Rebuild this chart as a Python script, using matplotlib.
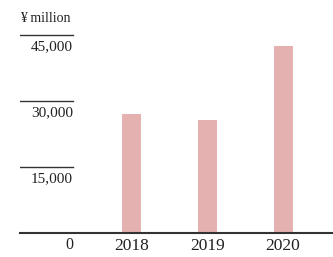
import matplotlib.pyplot as plt

years = ['2018', '2019', '2020']
values = [27000, 25700, 42600]
ticks = [15000, 30000, 45000]
tick_labels = ['15,000', '30,000', '45,000']

plt.rcParams['font.family'] = ['Liberation Serif', 'DejaVu Serif']

W, H = 333, 257
fig = plt.figure(figsize=(W / 100, H / 100), dpi=100)
# axes from x=20px to right edge, baseline at y=233px, top at y=20px
ax = fig.add_axes([20 / W, (H - 233) / H, 313 / W, 213 / H])
px_per = 66 / 15000
ax.set_ylim(0, 213 / px_per)
step = 75.7
ax.set_xlim(-(131.7 - 20) / step, 2 + (333 - 283) / step)
ax.axis('off')

ax.bar(range(len(years)), values, width=19 / step, color='#e4b0b0')

# short grid lines with labels underneath
frac = 53 / 313
for t, lab in zip(ticks, tick_labels):
    ax.axhline(t, xmin=0, xmax=frac, color='#333333', lw=1.0)
    ax.annotate(lab, xy=(frac, t), xycoords=('axes fraction', 'data'),
                xytext=(0, -12), textcoords='offset pixels',
                ha='right', va='center', fontsize=11, color='#222222')
ax.axhline(0, color='#333333', lw=1.5, clip_on=False)
ax.annotate('0', xy=(frac, 0), xycoords=('axes fraction', 'data'),
            xytext=(0, -12), textcoords='offset pixels',
            ha='right', va='center', fontsize=11.5, color='#222222')
for i, y in enumerate(years):
    ax.annotate(y, xy=(i, 0), xycoords='data', xytext=(0, -13.5),
                textcoords='offset pixels', ha='center', va='center',
                fontsize=12.5, color='#222222')

fig.text(20 / W, 1 - 19 / H, '¥ million', ha='left', va='center',
         fontsize=10, color='#222222')

fig.savefig('out.png', dpi=100)
